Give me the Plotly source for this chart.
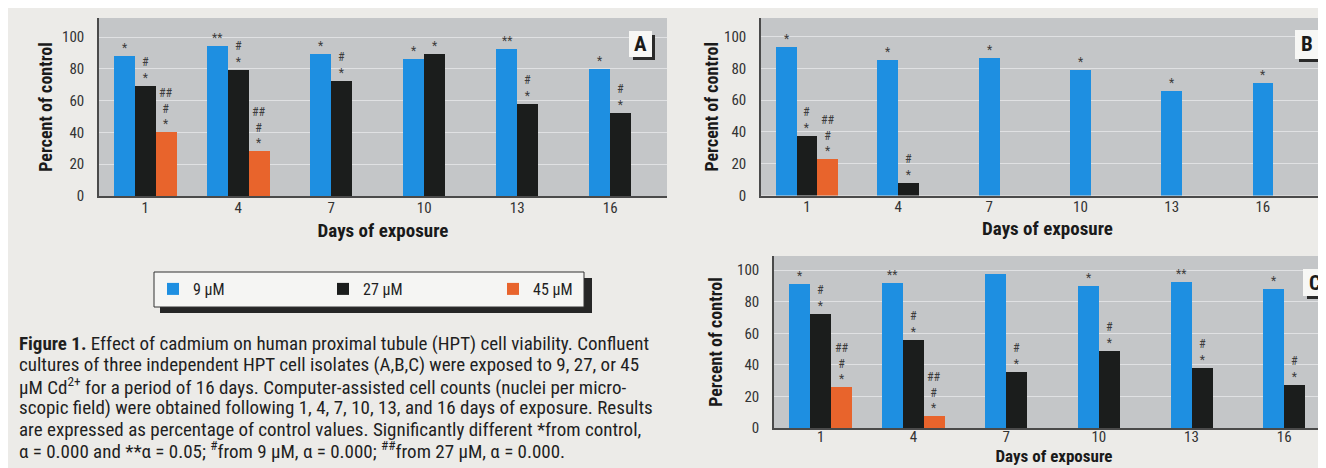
import plotly.graph_objects as go

W, H = 1326, 468

# ---------------- data ----------------
days = [1, 4, 7, 10, 13, 16]
day_labels = ["1", "4", "7", "10", "13", "16"]
y_tick_vals = [0, 20, 40, 60, 80, 100]
series_names = ["9 µM", "27 µM", "45 µM"]

# Panel A (percent of control)
a_9uM = [87.8, 94.5, 89.3, 85.9, 92.2, 79.6]
a_27uM = [69.3, 79.4, 72.4, 89.3, 57.9, 52.0]
a_45uM = [40.4, 28.4, None, None, None, None]
a_9uM_sig = ["*", "**", "*", "*", "**", "*"]
a_27uM_sig = ["#/*", "#/*", "#/*", "*", "#/*", "#/*"]
a_45uM_sig = ["##/#/*", "##/#/*", "", "", "", ""]

# Panel B
b_9uM = [93.2, 85.2, 86.4, 78.6, 65.8, 70.6]
b_27uM = [37.5, 8.0, None, None, None, None]
b_45uM = [22.7, None, None, None, None, None]
b_9uM_sig = ["*", "*", "*", "*", "*", "*"]
b_27uM_sig = ["#/*", "#/*", "", "", "", ""]
b_45uM_sig = ["##/#/*", "", "", "", "", ""]

# Panel C
c_9uM = [91.3, 92.0, 97.9, 89.8, 92.8, 88.3]
c_27uM = [72.1, 56.0, 35.4, 48.7, 38.3, 27.4]
c_45uM = [26.0, 7.3, None, None, None, None]
c_9uM_sig = ["*", "**", "", "*", "**", "*"]
c_27uM_sig = ["#/*", "#/*", "#/*", "#/*", "#/*", "#/*"]
c_45uM_sig = ["##/#/*", "##/#/*", "", "", "", ""]

caption_lines = [
    "<b>Figure 1.</b> Effect of cadmium on human proximal tubule (HPT) cell viability. Confluent",
    "cultures of three independent HPT cell isolates (A,B,C) were exposed to 9, 27, or 45",
    "µM Cd<sup>2+</sup> for a period of 16 days. Computer-assisted cell counts (nuclei per micro-",
    "scopic field) were obtained following 1, 4, 7, 10, 13, and 16 days of exposure. Results",
    "are expressed as percentage of control values. Significantly different *from control,",
    "α = 0.000 and **α = 0.05; <sup>#</sup>from 9 µM, α = 0.000; <sup>##</sup>from 27 µM, α = 0.000.",
]

# ---------------- styling ----------------
NARROW = "Liberation Sans Narrow, Arial Narrow, Roboto Condensed, Roboto, sans-serif"
COLORS = ["#1e8fe1", "#1b1d1c", "#e8642c"]
PAPER = "#ecebe8"
PLOTBG = "#c4c6c8"
BAR_W = 0.68


def px(x):
    return x / W


def py(y):
    return 1 - y / H


panels = [
    dict(name="A", data=[a_9uM, a_27uM, a_45uM], sig=[a_9uM_sig, a_27uM_sig, a_45uM_sig],
         left=91, right=659, top=10, bottom=188, xr=[-0.49, 17.83], ytop=112,
         ystand=5, xstand=8, tstand=-3, tsize=19, box=(621, 23, 644, 49)),
    dict(name="B", data=[b_9uM, b_27uM, b_45uM], sig=[b_9uM_sig, b_27uM_sig, b_45uM_sig],
         left=753, right=1326, top=10, bottom=187.5, xr=[-0.51, 18.34], ytop=111.6,
         ystand=1, xstand=6, tstand=-3, tsize=19, box=(1287, 22, 1310, 51)),
    dict(name="C", data=[c_9uM, c_27uM, c_45uM], sig=[c_9uM_sig, c_27uM_sig, c_45uM_sig],
         left=766, right=1326, top=248, bottom=420, xr=[-0.51, 17.61], ytop=109,
         ystand=10, xstand=0, tstand=-6, tsize=17, box=(1295, 261, 1318, 288)),
]

fig = go.Figure()
annotations = []
shapes = []

for p_i, p in enumerate(panels):
    suffix = "" if p_i == 0 else str(p_i + 1)
    xa, ya = "x" + suffix, "y" + suffix
    # number of bars present per day -> center each group on its tick
    counts = [sum(v is not None for v in vals) for vals in zip(*p["data"])]
    for k, (vals, sigs) in enumerate(zip(p["data"], p["sig"])):
        offs = [-counts[i] * BAR_W / 2 + k * BAR_W for i in range(len(days))]
        fig.add_trace(go.Bar(
            x=days, y=vals, width=BAR_W, offset=offs,
            marker=dict(color=COLORS[k], line=dict(width=0)),
            name=series_names[k], legendgroup=series_names[k],
            showlegend=(p_i == 0), xaxis=xa, yaxis=ya,
        ))
        for i, s in enumerate(sigs):
            if not s or vals[i] is None:
                continue
            annotations.append(dict(
                x=days[i] + offs[i] + BAR_W / 2, y=vals[i], xref=xa, yref=ya,
                text="<br>".join(s.split("/")), showarrow=False,
                yanchor="bottom", xanchor="center", yshift=-1,
                font=dict(family=NARROW, size=12, color="#3c3c3c"),
            ))
    axis_common = dict(automargin=False, fixedrange=True)
    fig.layout["xaxis" + suffix] = dict(
        domain=[px(p["left"]), px(p["right"])], range=p["xr"], anchor=ya,
        tickvals=days, ticktext=day_labels, showgrid=False, zeroline=False,
        showline=True, linecolor="#4a4a4a", linewidth=1.5, ticks="",
        ticklabelstandoff=p["tstand"],
        tickfont=dict(family=NARROW, size=15, color="#333333"),
        title=dict(text="<b>Days of exposure</b>", standoff=p["xstand"],
                   font=dict(family=NARROW, size=p["tsize"], color="#1a1a1a")),
        **axis_common,
    )
    fig.layout["yaxis" + suffix] = dict(
        domain=[py(p["bottom"]), py(p["top"])], range=[0, p["ytop"]], anchor=xa,
        tickvals=y_tick_vals, showgrid=True, gridcolor="#e0e1e3", gridwidth=1,
        zeroline=False, showline=True, linecolor="#4a4a4a", linewidth=1.5, ticks="",
        ticklabelstandoff=10,
        tickfont=dict(family=NARROW, size=15, color="#333333"),
        title=dict(text="<b>Percent of control</b>", standoff=p["ystand"],
                   font=dict(family=NARROW, size=18, color="#1a1a1a")),
        **axis_common,
    )
    # panel letter box with dark L-shaped shadow
    x0, y0, x1, y1 = p["box"]
    shapes.append(dict(type="rect", xref="paper", yref="paper",
                       x0=px(x0 + 4), x1=px(x1 + 3), y0=py(y1 + 3), y1=py(y0 + 4),
                       fillcolor="#2a2a2a", line=dict(width=0), layer="above"))
    shapes.append(dict(type="rect", xref="paper", yref="paper",
                       x0=px(x0), x1=px(x1), y0=py(y1), y1=py(y0),
                       fillcolor="#f7f7f5", line=dict(width=0), layer="above"))
    annotations.append(dict(x=px((x0 + x1) / 2), y=py((y0 + y1) / 2), xref="paper", yref="paper",
                            text="<b>%s</b>" % p["name"], showarrow=False,
                            xanchor="center", yanchor="middle",
                            font=dict(family=NARROW, size=21, color="#1a1a1a")))

# legend frame with shadow
shapes.append(dict(type="rect", xref="paper", yref="paper",
                   x0=px(152), x1=px(584), y0=py(305), y1=py(270),
                   fillcolor="#262626", line=dict(width=0), layer="below"))
shapes.append(dict(type="rect", xref="paper", yref="paper",
                   x0=px(146), x1=px(576), y0=py(299), y1=py(264),
                   fillcolor="#f5f5f3", line=dict(color="#333333", width=1), layer="below"))

# caption
for i, line in enumerate(caption_lines):
    annotations.append(dict(x=px(9), y=py(335 + i * 21.5), xref="paper", yref="paper",
                            text=line, showarrow=False, xanchor="left", yanchor="middle",
                            align="left",
                            font=dict(family=NARROW, size=19, color="#1f1f1f")))

fig.update_layout(
    width=W, height=H, autosize=False,
    margin=dict(l=0, r=0, t=0, b=0, pad=0),
    paper_bgcolor=PAPER, plot_bgcolor=PLOTBG,
    barmode="overlay", bargap=0,
    showlegend=True,
    legend=dict(orientation="h", x=px(145), xanchor="left", y=py(281), yanchor="middle",
                bgcolor="rgba(0,0,0,0)", borderwidth=0, entrywidth=125, entrywidthmode="pixels",
                font=dict(family=NARROW, size=16, color="#1f1f1f"), traceorder="normal"),
    annotations=annotations, shapes=shapes,
)

fig.write_html("out.html")
